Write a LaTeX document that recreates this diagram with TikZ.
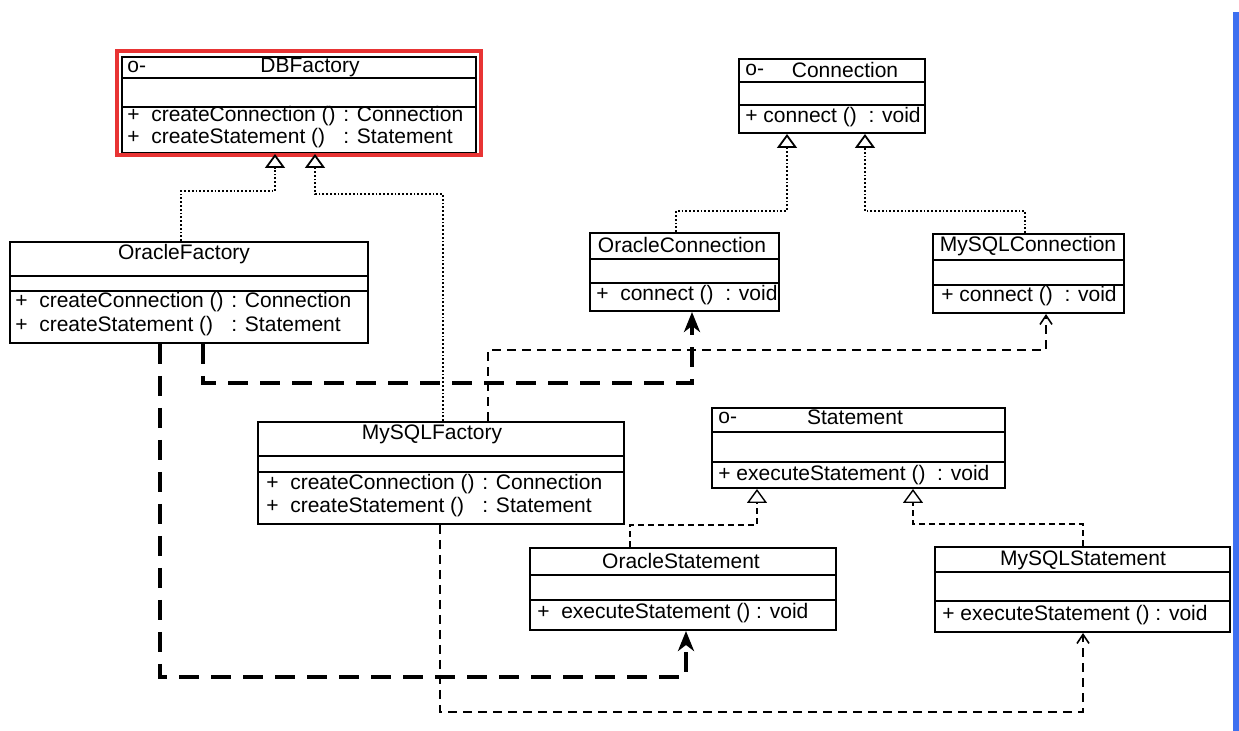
\documentclass[tikz,border=0pt]{standalone}
\usepackage{fontspec}
\setmainfont{Liberation Sans}
\usetikzlibrary{arrows.meta, fit}
\definecolor{boxRed}{RGB}{232,52,52}
\definecolor{barBlue}{RGB}{62,112,240}

\newcommand{\clsrule}[2]{\draw[rule] (#1.west |- 0,#2) -- (#1.east |- 0,#2);}
\newcommand{\mcol}[2]{\makebox[108pt][l]{+\ \ #1}#2}

\begin{document}
\begin{tikzpicture}[
    x=0.5pt, y=-0.5pt,
    every node/.style={font=\fontsize{10.5}{12}\selectfont, inner sep=0pt},
    cls/.style={draw, line width=1pt, inner sep=0pt},
    rule/.style={line width=1pt},
    ttl/.style={anchor=center},
    mth/.style={anchor=west},
    real/.style={densely dotted, line width=0.9pt, -{Triangle[open, length=7pt, width=10pt]}},
    realst/.style={dash pattern=on 3pt off 2pt, line width=0.7pt, -{Triangle[open, length=7pt, width=10pt]}},
    dep/.style={dash pattern=on 10pt off 6pt, line width=2pt, -{Stealth[length=10pt, width=8pt, inset=3pt]}},
    use/.style={dash pattern=on 4.5pt off 3pt, line width=0.8pt, -{Straight Barb[length=4.5pt, width=6pt]}}
]
\useasboundingbox (0,0) rectangle (1239,731);
\fill[white] (0,0) rectangle (1239,731);
\fill[barBlue] (1233,12) rectangle (1239,731);

% Factories
\node[cls, fit={(122,57) (476,153)}] (dbf) {};
\clsrule{dbf}{78}
\clsrule{dbf}{107}
\node[mth] (dbf-i) at (127,67) {o-};
\node[ttl] (dbf-t) at (310,67) {DBFactory};
\node[mth] (dbf-m1) at (127,116) {\mcol{createConnection ()}{: Connection}};
\node[mth] (dbf-m2) at (127,138) {\mcol{createStatement ()}{: Statement}};
\draw[boxRed, line width=2pt] (117,51) rectangle (481,155);

\node[cls, fit={(10,242) (368,343)}] (ofac) {};
\clsrule{ofac}{276}
\clsrule{ofac}{291}
\node[ttl] (ofac-t) at (184,254) {OracleFactory};
\node[mth] (ofac-m1) at (15,302) {\mcol{createConnection ()}{: Connection}};
\node[mth] (ofac-m2) at (15,326) {\mcol{createStatement ()}{: Statement}};

\node[cls, fit={(258,422) (624,524)}] (mfac) {};
\clsrule{mfac}{456}
\clsrule{mfac}{472}
\node[ttl] (mfac-t) at (432,434) {MySQLFactory};
\node[mth] (mfac-m1) at (266,484) {\mcol{createConnection ()}{: Connection}};
\node[mth] (mfac-m2) at (266,507) {\mcol{createStatement ()}{: Statement}};

% Connections
\node[cls, fit={(739,59) (925,133)}] (con) {};
\clsrule{con}{82}
\clsrule{con}{105}
\node[mth] (con-i) at (745,70) {o-};
\node[ttl] (con-t) at (845,70) {Connection};
\node[mth] (con-m) at (745,117) {+ connect () \ : void};

\node[cls, fit={(590,233) (779,311)}] (ocon) {};
\clsrule{ocon}{259}
\clsrule{ocon}{283}
\node[ttl] (ocon-t) at (682,245) {OracleConnection};
\node[mth] (ocon-m) at (596,295) {+\ \ connect () \ : void};

\node[cls, fit={(933,234) (1124,313)}] (mcon) {};
\clsrule{mcon}{260}
\clsrule{mcon}{285}
\node[ttl] (mcon-t) at (1028,246) {MySQLConnection};
\node[mth] (mcon-m) at (941,296) {+ connect () \ : void};

% Statements
\node[cls, fit={(712,408) (1005,488)}] (stm) {};
\clsrule{stm}{432}
\clsrule{stm}{462}
\node[mth] (stm-i) at (718,418) {o-};
\node[ttl] (stm-t) at (855,417) {Statement};
\node[mth] (stm-m) at (718,475) {+ executeStatement () \ : void};

\node[cls, fit={(530,548) (836,630)}] (ost) {};
\clsrule{ost}{575}
\clsrule{ost}{600}
\node[ttl] (ost-t) at (681,561) {OracleStatement};
\node[mth] (ost-m) at (537,613) {+\ \ executeStatement () : void};

\node[cls, fit={(935,547) (1230,632)}] (mst) {};
\clsrule{mst}{572}
\clsrule{mst}{601}
\node[ttl] (mst-t) at (1083,560) {MySQLStatement};
\node[mth] (mst-m) at (942,615) {+ executeStatement () : void};

% Realisations
\draw[real] (ofac.north -| 181,0) |- (275,191) -- (dbf.south -| 275,0);
\draw[real] (mfac.north -| 443,0) |- (315,194) -- (dbf.south -| 315,0);
\draw[real] (ocon.north -| 676,0) |- (787,211) -- (con.south -| 787,0);
\draw[real] (mcon.north -| 1025,0) |- (865,211) -- (con.south -| 865,0);
\draw[realst] (ost.north -| 630,0) |- (757,525) -- (stm.south -| 757,0);
\draw[realst] (mst.north -| 1083,0) |- (913,524) -- (stm.south -| 913,0);

% Dependencies
\draw[dep] (ofac.south -| 203,0) |- (692,383) -- (ocon.south -| 692,0);
\draw[dep] (ofac.south -| 160,0) |- (686,677) -- (ost.south -| 686,0);
\draw[use] (mfac.north -| 488,0) |- (1046,350) -- (mcon.south -| 1046,0);
\draw[use] (mfac.south -| 440,0) |- (1083,712) -- (mst.south -| 1083,0);

\end{tikzpicture}
\end{document}
